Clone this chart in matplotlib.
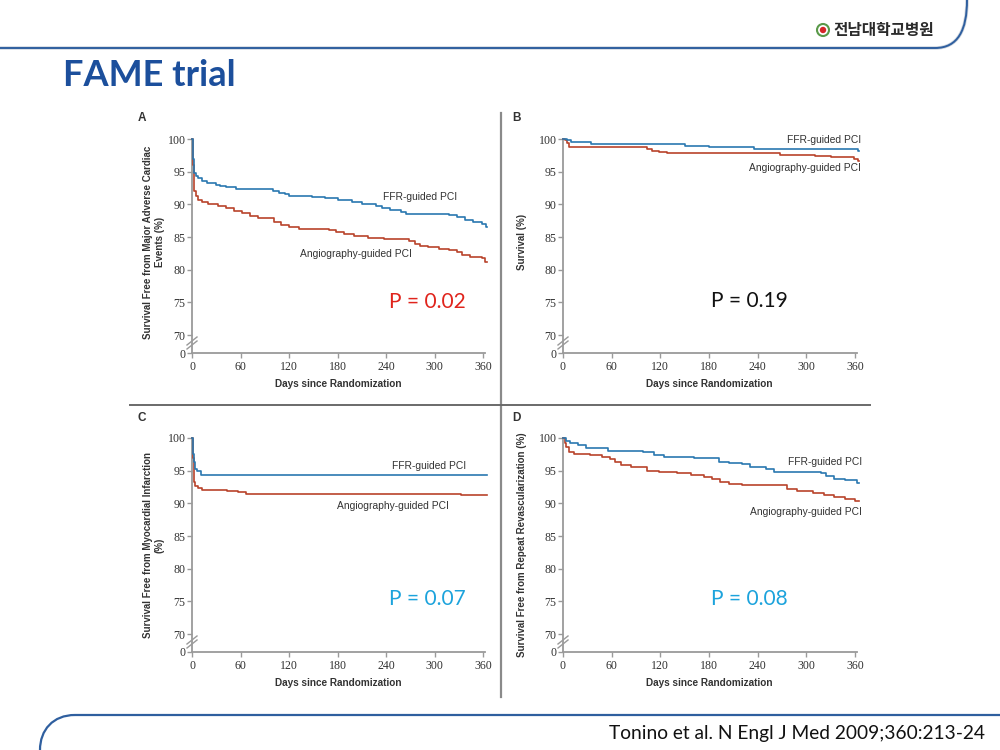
import matplotlib
matplotlib.use("Agg")
import matplotlib.pyplot as plt
from matplotlib.path import Path
from matplotlib.patches import PathPatch, Circle
import numpy as np

# ---------------- data ----------------
x_ticks = [0, 60, 120, 180, 240, 300, 360]
y_ticks = [70, 75, 80, 85, 90, 95, 100]
y_tick_labels = ["70", "75", "80", "85", "90", "95", "100"]

a_ffr_days = [0, 1, 2, 3, 5, 8, 12, 18, 30, 35, 42, 55, 100, 108, 115, 120, 148, 165, 180,
              198, 210, 228, 235, 245, 258, 265, 318, 328, 338, 348, 358, 363, 365]
a_ffr_surv = [100, 97.0, 95.5, 94.8, 94.4, 94.0, 93.6, 93.3, 93.0, 92.8, 92.6, 92.3, 92.1, 91.8,
              91.6, 91.3, 91.1, 90.9, 90.7, 90.4, 90.1, 89.8, 89.4, 89.1, 88.8, 88.5, 88.3, 88.0,
              87.6, 87.3, 87.0, 86.5, 86.5]
a_ang_days = [0, 1, 2, 3, 5, 8, 12, 20, 32, 42, 52, 62, 72, 82, 102, 110, 120, 132, 170, 178,
              188, 200, 218, 238, 268, 276, 282, 292, 305, 318, 328, 334, 344, 358, 362, 365]
a_ang_surv = [100, 96.0, 93.5, 92.0, 91.3, 90.7, 90.4, 90.1, 89.8, 89.4, 89.0, 88.6, 88.2, 87.9,
              87.3, 86.9, 86.6, 86.3, 86.0, 85.7, 85.4, 85.1, 84.9, 84.7, 84.4, 83.9, 83.7, 83.4,
              83.2, 83.0, 82.7, 82.3, 82.0, 81.8, 81.2, 81.2]

b_ffr_days = [0, 5, 10, 35, 150, 180, 235, 270, 363, 365]
b_ffr_surv = [100, 99.8, 99.5, 99.2, 98.95, 98.75, 98.5, 98.4, 98.1, 98.1]
b_ang_days = [0, 3, 5, 8, 103, 110, 118, 128, 268, 310, 330, 358, 363, 365]
b_ang_surv = [100, 99.8, 99.4, 98.8, 98.5, 98.2, 98.0, 97.85, 97.55, 97.35, 97.2, 96.95, 96.7, 96.7]

c_ffr_days = [0, 1, 2, 4, 6, 11, 365]
c_ffr_surv = [100, 97.5, 96.3, 95.2, 95.0, 94.3, 94.3]
c_ang_days = [0, 1, 2, 3, 4, 7, 12, 43, 57, 67, 332, 365]
c_ang_surv = [100, 97.0, 94.5, 93.2, 92.7, 92.4, 92.1, 91.9, 91.7, 91.45, 91.3, 91.3]

d_ffr_days = [0, 4, 9, 18, 28, 45, 55, 98, 112, 124, 162, 192, 204, 220, 230, 250, 260, 318,
              324, 334, 348, 362, 365]
d_ffr_surv = [100, 99.6, 99.2, 98.9, 98.5, 98.4, 98.0, 97.8, 97.45, 97.1, 96.9, 96.4, 96.2,
              95.95, 95.6, 95.25, 94.85, 94.6, 94.2, 93.8, 93.55, 93.1, 93.1]
d_ang_days = [0, 2, 4, 8, 13, 33, 48, 58, 64, 72, 84, 104, 118, 140, 158, 174, 184, 194, 204,
              220, 276, 288, 308, 322, 334, 348, 360, 365]
d_ang_surv = [100, 99.3, 98.6, 97.9, 97.6, 97.4, 97.1, 96.8, 96.4, 95.9, 95.6, 95.0, 94.8, 94.6,
              94.4, 94.1, 93.7, 93.3, 93.0, 92.8, 92.2, 91.9, 91.6, 91.3, 90.9, 90.7, 90.3, 90.3]

panel_letters = ["A", "B", "C", "D"]
y_labels = ["Survival Free from Major Adverse Cardiac\nEvents (%)",
            "Survival (%)",
            "Survival Free from Myocardial Infarction\n(%)",
            "Survival Free from Repeat Revascularization (%)"]
p_values = ["P = 0.02", "P = 0.19", "P = 0.07", "P = 0.08"]
ffr_label = "FFR-guided PCI"
ang_label = "Angiography-guided PCI"
x_label = "Days since Randomization"
title = "FAME trial"
logo = "전남대학교병원"
citation = "Tonino et al. N Engl J Med 2009;360:213-24"

# ---------------- style ----------------
BLUE = "#2a78b0"
RED = "#b9432b"
AXC = "#9a9a9a"
TXT = "#333333"
SANS = ["Liberation Sans", "DejaVu Sans"]
SERIF = ["Liberation Serif", "DejaVu Serif"]
CAL = ["Lato", "DejaVu Sans"]

W, H = 1000, 750
fig = plt.figure(figsize=(10, 7.5), dpi=100)
fig.patch.set_facecolor("white")

bg = fig.add_axes([0, 0, 1, 1], zorder=0)
bg.set_xlim(0, W)
bg.set_ylim(H, 0)
bg.axis("off")

YBOT = 67.25
# (left, right, top, bottom) in pixels
boxes = [(192, 488, 139, 353), (563, 860, 139, 353),
         (192, 488, 438, 652), (563, 860, 438, 652)]
series = [(a_ffr_days, a_ffr_surv, a_ang_days, a_ang_surv),
          (b_ffr_days, b_ffr_surv, b_ang_days, b_ang_surv),
          (c_ffr_days, c_ffr_surv, c_ang_days, c_ang_surv),
          (d_ffr_days, d_ffr_surv, d_ang_days, d_ang_surv)]

for i, ((l, r, t, b), (fd, fs, ad, as_)) in enumerate(zip(boxes, series)):
    ax = fig.add_axes([l / W, 1 - b / H, (r - l) / W, (b - t) / H], zorder=2)
    ax.patch.set_alpha(0)
    ax.set_xlim(0, 366)
    ax.set_ylim(YBOT, 100)
    ax.step(ad, as_, where="post", color=RED, lw=1.2, clip_on=False, zorder=3)
    ax.step(fd, fs, where="post", color=BLUE, lw=1.2, clip_on=False, zorder=4)
    for s in ["top", "right"]:
        ax.spines[s].set_visible(False)
    for s in ["left", "bottom"]:
        ax.spines[s].set_color(AXC)
        ax.spines[s].set_linewidth(1.3)
    ax.spines["bottom"].set_bounds(0, 362)
    ax.set_xticks(x_ticks)
    ax.set_xticklabels([str(v) for v in x_ticks])
    ax.set_yticks([YBOT] + y_ticks)
    ax.set_yticklabels(["0"] + y_tick_labels)
    ax.tick_params(axis="both", direction="out", length=3.5, width=1.0, color=AXC,
                   labelsize=8.6, labelcolor=TXT)
    ax.tick_params(axis="x", pad=2.5)
    ax.tick_params(axis="y", pad=1.2)
    for lab in ax.get_xticklabels() + ax.get_yticklabels():
        lab.set_family(SERIF)

    # break marks on y axis
    yb = b - 10
    for off in (-2, 2):
        bg.plot([l - 5, l + 5], [yb + 4 + off, yb - 4 + off], color=AXC, lw=1.0, zorder=5)

    # panel letter
    bg.text(l - 54 if i % 2 == 0 else l - 51, t - 21 if i < 2 else t - 20, panel_letters[i],
            family=SANS, fontweight="bold", fontsize=8.5, color=TXT, ha="left", va="center")
    # x label
    bg.text((l + 484 - 192 + l) / 2 + 0.5, b + 31, x_label, family=SANS, fontweight="bold",
            fontsize=7.2, color=TXT, ha="center", va="center")

# y labels
bg.text(154, 242, y_labels[0], rotation=90, family=SANS, fontweight="bold", fontsize=7.0,
        color=TXT, ha="center", va="center", multialignment="center", linespacing=1.2)
bg.text(522, 242, y_labels[1], rotation=90, family=SANS, fontweight="bold", fontsize=7.0,
        color=TXT, ha="center", va="center")
bg.text(154, 545, y_labels[2], rotation=90, family=SANS, fontweight="bold", fontsize=7.0,
        color=TXT, ha="center", va="center", multialignment="center", linespacing=1.2)
bg.text(522, 545, y_labels[3], rotation=90, family=SANS, fontweight="bold", fontsize=7.0,
        color=TXT, ha="center", va="center")

# curve labels
LS = 7.4
bg.text(383, 197, ffr_label, family=SANS, fontsize=LS, color=TXT, ha="left", va="center")
bg.text(300, 254, ang_label, family=SANS, fontsize=LS, color=TXT, ha="left", va="center")
bg.text(861, 140, ffr_label, family=SANS, fontsize=LS, color=TXT, ha="right", va="center")
bg.text(861, 168, ang_label, family=SANS, fontsize=LS, color=TXT, ha="right", va="center")
bg.text(392, 466, ffr_label, family=SANS, fontsize=LS, color=TXT, ha="left", va="center")
bg.text(337, 506, ang_label, family=SANS, fontsize=LS, color=TXT, ha="left", va="center")
bg.text(862, 462, ffr_label, family=SANS, fontsize=LS, color=TXT, ha="right", va="center")
bg.text(862, 512, ang_label, family=SANS, fontsize=LS, color=TXT, ha="right", va="center")

# p values
PS = 15
bg.text(427, 302, p_values[0], family=CAL, fontsize=PS, color="#e0241c", ha="center", va="center")
bg.text(749, 301, p_values[1], family=CAL, fontsize=PS, color="#111111", ha="center", va="center")
bg.text(427, 599, p_values[2], family=CAL, fontsize=PS, color="#1ca3dc", ha="center", va="center")
bg.text(749, 599, p_values[3], family=CAL, fontsize=PS, color="#1ca3dc", ha="center", va="center")

# separators
bg.plot([501, 501], [113, 697], color="#8a8a8a", lw=1.6, zorder=1)
bg.plot([130, 870], [405, 405], color="#6a6a6a", lw=1.4, zorder=1)

# slide decorations
HB = "#2f5f9f"
top_path = Path([(0, 48), (935, 48), (958, 48), (967, 30), (967, 0)],
                [Path.MOVETO, Path.LINETO, Path.CURVE4, Path.CURVE4, Path.CURVE4])
bg.add_patch(PathPatch(top_path, fill=False, edgecolor="#cfd6df", lw=2.5, zorder=1))
bg.add_patch(PathPatch(top_path, fill=False, edgecolor=HB, lw=1.4, zorder=2))
bot_path = Path([(1000, 715), (75, 715), (53, 715), (40, 730), (40, 750)],
                [Path.MOVETO, Path.LINETO, Path.CURVE4, Path.CURVE4, Path.CURVE4])
bg.add_patch(PathPatch(bot_path, fill=False, edgecolor=HB, lw=1.6, zorder=2))

bg.text(63, 76, title, family=["Lato", "DejaVu Sans"], fontweight="bold", fontsize=26,
        color="#1c4f9c", ha="left", va="center")
bg.text(833, 30, logo, family=["Noto Sans CJK KR", "DejaVu Sans"], fontweight="bold",
        fontsize=11.3, color="#2b2b2b", ha="left", va="center")
bg.add_patch(Circle((823, 30), 6, facecolor="white", edgecolor="#5a9a4a", lw=1.5, zorder=3))
bg.add_patch(Circle((823, 30), 3.2, facecolor="#d6262a", edgecolor="none", zorder=4))

bg.text(985, 733, citation, family=CAL, fontsize=13.8, color="#111111", ha="right", va="center")

fig.savefig("out.png", dpi=100, facecolor="white")
